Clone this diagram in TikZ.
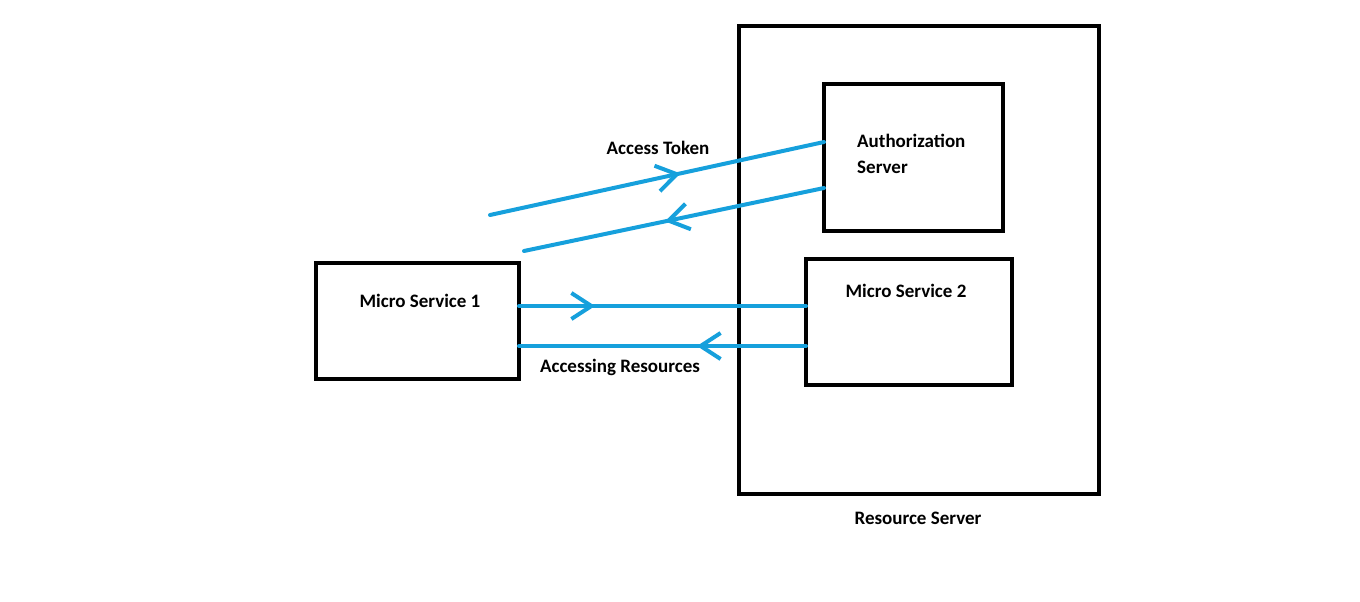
\documentclass[tikz,border=0pt]{standalone}
\usepackage{fontspec}
\setmainfont{Carlito}
\usepackage{tikz}
\usetikzlibrary{arrows.meta,decorations.markings}
\definecolor{flowblue}{RGB}{22,160,220}

\begin{document}
\begin{tikzpicture}[x=1pt,y=-1pt,
    box/.style={draw, line width=4.5pt, inner sep=0pt, outer sep=0pt},
    txt/.style={font=\fontsize{19}{26}\selectfont\bfseries, inner sep=0pt, anchor=base},
    flow/.style={draw=flowblue, color=flowblue, line width=4pt, line cap=round},
    midarrow/.style={postaction={decorate}, decoration={markings,
        mark=at position #1 with {\arrow{Straight Barb[length=20pt,width=26pt]}}}}]
  \useasboundingbox (0,0) rectangle (1360,602);

   \draw (919,260) node[box, minimum width=360pt, minimum height=468pt] (res) {};
    \draw (913.5,157.5) node[box, minimum width=179pt, minimum height=147pt] (auth) {};
    \draw (909,322) node[box, minimum width=206pt, minimum height=126pt] (ms2) {};
  \draw (417.5,321) node[box, minimum width=203pt, minimum height=116pt] (ms1) {};

   \draw (658,154) node[txt] (token) {Access Token};
    \draw (857,173) node[txt, anchor=base west, align=left] (authname) {Authorization\\Server};
    \draw (906,297) node[txt] (ms2name) {Micro Service 2};
  \draw (420,307) node[txt] (ms1name) {Micro Service 1};
      \draw (620,372) node[txt] (access) {Accessing Resources};
  \draw (918,524) node[txt] (resname) {Resource Server};

   \coordinate (tokfrom) at (490,215);
   \coordinate (tokto) at (524,251);

       \draw[flow, midarrow=0.57] (tokfrom) -- ([yshift=15.5pt]auth.west);
        \draw[flow, midarrow=0.53] ([yshift=-30.5pt]auth.west) -- (tokto);
        \draw[flow, midarrow=0.265] ([yshift=15pt]ms1.east) -- ([yshift=16pt]ms2.west);
       \draw[flow, midarrow=0.38] ([yshift=-24pt]ms2.west) -- ([yshift=-25pt]ms1.east);
\end{tikzpicture}
\end{document}
